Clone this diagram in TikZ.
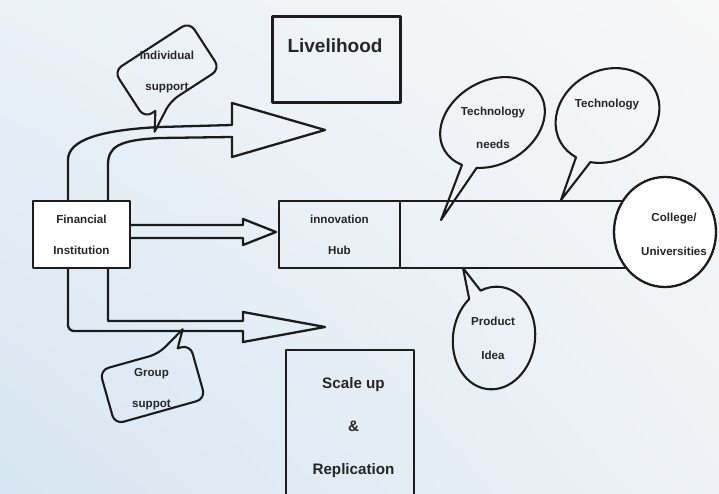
\documentclass[tikz,border=0pt]{standalone}
\usepackage{fontspec}
\setmainfont{Liberation Sans}
\usetikzlibrary{shapes.geometric,shapes.callouts,shadings}
\definecolor{ink}{RGB}{28,28,28}
\definecolor{txt}{RGB}{38,38,38}
\definecolor{bgLL}{RGB}{214,230,242}
\definecolor{bgUL}{RGB}{234,241,247}
\definecolor{bgUR}{RGB}{248,248,248}
\definecolor{bgLR}{RGB}{238,242,246}
\tikzset{
  line/.style={draw=ink, line width=2.3pt},
  box/.style={line, inner sep=0pt, outer sep=0pt},
  lab/.style={text=txt, inner sep=0pt, align=center, font=\bfseries\fontsize{11.6}{#1}\selectfont},
  lab/.default=31,
  bubble/.style={ellipse callout, line, line width=2.1pt, inner sep=0pt, callout pointer arc=18},
}
\begin{document}
\begin{tikzpicture}[x=1pt, y=-1pt, line join=round, line cap=round]
\useasboundingbox (0,0) rectangle (719,494);
\clip (0,0) rectangle (719,494);
\shade[lower left=bgLL, upper left=bgUL, upper right=bgUR, lower right=bgLR] (0,0) rectangle (719,494);
% boxes
\node[box, lab, fill=white, minimum width=97, minimum height=67] (fin) at (81.5,234.5) {Financial\\Institution};
\node[box, minimum width=128, minimum height=86] (live) at (336.5,59.5) {};
\node[lab, font=\bfseries\fontsize{19}{23}\selectfont] (livetxt) at (335,46) {Livelihood};
\node[box, lab, minimum width=121, minimum height=67] (hub) at (339.5,234.5) {innovation\\Hub};
\node[box, minimum width=265, minimum height=67, anchor=west] (strip) at (hub.east) {};
\node[box, ellipse, fill=white, minimum width=102, minimum height=110] (coll) at (665,232) {};
\node[lab=34] (colltxt) at (674,234.7) {College/\\Universities};
\node[box, minimum width=128, minimum height=160, anchor=north west] (scale) at (286,350) {};
\node[lab, font=\bfseries\fontsize{15.2}{43}\selectfont] (scaletxt) at (353.5,428) {Scale up\\\&\\Replication};
% arrows
\coordinate (uptip) at (325,130);
\coordinate (midtip) at (276,232);
\coordinate (dntip) at (325,327);
\draw[line] ([xshift=35]fin.north west) -- (68,160) .. controls (68,140) and (100,130) .. (160,127) -- (232,125) -- (232,103) -- (uptip) -- (232,157) -- (232,137) -- (160,138) .. controls (118,140) and (108,147) .. (108,165) -- ([xshift=75]fin.north west);
\draw[line] ([yshift=9.5]fin.east) -- (243,225) -- (243,219) -- (midtip) -- (243,245) -- (243,238) -- ([yshift=-3.5]fin.east);
\draw[line] ([xshift=35]fin.south west) [rounded corners=6] -- (68,331) [sharp corners] -- (243,331) -- (243,342) -- (dntip) -- (243,312) -- (243,321) -- (108,321) -- ([xshift=75]fin.south west);
% callouts
\draw[line, line width=2.1pt, shift={(167,70)}, rotate=33] (-44,45) -- (-32,28) [rounded corners=9] -- (-45,28) -- (-45,-28) -- (45,-28) -- (45,28) -- (-14,28) [sharp corners] -- cycle;
\node[lab] (indiv) at (167,71.7) {Individual\\support};
\draw[line, line width=2.1pt, shift={(152.5,384.5)}, rotate=15.7] (44,-45) -- (34,-28) [rounded corners=9] -- (47,-28) -- (47,28) -- (-47,28) -- (-47,-28) -- (14,-28) [sharp corners] -- cycle;
\node[lab] (group) at (151.5,389.4) {Group\\suppot};
\node[bubble, rotate=30, minimum width=111, minimum height=83, callout absolute pointer={(441,220)}] (needs) at (492.5,122.5) {};
\node[lab=33] (needstxt) at (493,127.4) {Technology\\needs};
\node[bubble, rotate=30, minimum width=108, minimum height=90, callout absolute pointer={(561,200)}] (tech) at (607.5,115.5) {};
\node[lab] (techtxt) at (607,104.4) {Technology};
\node[bubble, rotate=-8, minimum width=82, minimum height=103, callout absolute pointer={(463,268)}] (idea) at (494,338) {};
\node[lab=34] (ideatxt) at (493,337.9) {Product\\Idea};
\end{tikzpicture}
\end{document}
